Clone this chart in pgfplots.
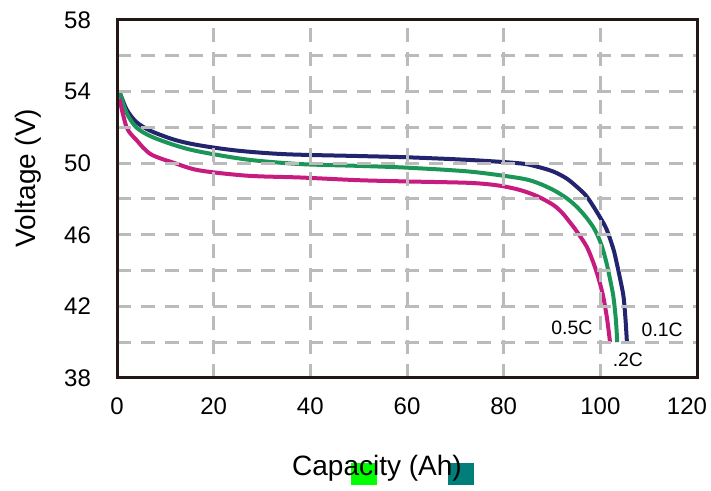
\documentclass[border=0pt]{standalone}
\usepackage{pgfplots}
\pgfplotsset{compat=1.18}
\usepackage{fontspec}
\setmainfont{Liberation Sans}

\definecolor{navyc}{RGB}{35,36,110}
\definecolor{greenc}{RGB}{27,150,88}
\definecolor{magc}{RGB}{200,27,127}
\definecolor{gridc}{RGB}{187,187,187}
\definecolor{boxc}{RGB}{35,24,21}
\definecolor{mkgreen}{RGB}{0,255,0}
\definecolor{mkteal}{RGB}{0,126,122}

\begin{document}
\begin{tikzpicture}[x=0.5pt,y=0.5pt]
\useasboundingbox (0,0) rectangle (711,491);

% marker blocks behind the x label
\fill[mkgreen] (351,6) rectangle (377,28);
\fill[mkteal] (448,6) rectangle (474,28);

\begin{axis}[
    at={(58.5pt,56.5pt)},
    anchor=south west,
    scale only axis,
    width=290pt,
    height=179pt,
    xmin=0, xmax=120,
    ymin=38, ymax=58,
    xtick={0,20,...,120},
    xticklabels={0,20,40,60,80,100,{\hspace*{-10pt}120}},
    ytick={38,40,...,58},
    yticklabels={38,,42,,46,,50,,54,,58},
    major tick length=0pt,
    grid=major,
    major grid style={gridc, line width=1.5pt, dash pattern=on 7pt off 5pt},
    axis line style={boxc, line width=1.5pt},
    axis on top,
    /pgf/number format/assume math mode=true,
    ticklabel style={font=\fontsize{12}{14}\selectfont},
    xticklabel style={yshift=-6.5pt},
    yticklabel style={xshift=-9.5pt},
    clip=false
]

% 0.1C
\addplot[navyc, line width=2pt, smooth] coordinates {
    (0.5,54.0) (2,53.0) (4,52.3) (7,51.8) (12,51.3) (17,51.0) (25,50.7)
    (35,50.5) (50,50.4) (60,50.33) (73,50.18) (83.4,49.99) (87,49.8)
    (90.3,49.53) (93,49.15) (95.1,48.69) (97,48.2) (98.6,47.57) (100,46.95)
    (101.3,46.3) (102.7,45.2) (103.4,44.41) (104.2,43.4) (104.8,42.54)
    (105.2,41.3) (105.5,40.0)
};

% 0.2C
\addplot[greenc, line width=2pt, smooth] coordinates {
    (0.5,54.0) (2,52.8) (4,52.0) (7,51.5) (12,51.0) (17,50.65) (27,50.2)
    (38,49.95) (50,49.85) (60,49.75) (73,49.53) (83.4,49.16) (87,48.9)
    (90.3,48.5) (93,48.05) (95.1,47.57) (97,47.0) (98.6,46.4) (99.7,45.8)
    (100.5,45.2) (101.3,44.41) (102.1,43.4) (102.7,42.54) (103.2,41.3)
    (103.5,40.0)
};

% 0.5C
\addplot[magc, line width=2pt, smooth] coordinates {
    (0.5,53.6) (2,52.0) (4,51.3) (7,50.5) (12,50.0) (17,49.6) (27,49.3)
    (38,49.2) (50,49.05) (60,48.98) (73,48.9) (79,48.75) (83.4,48.5)
    (87,48.15) (90.3,47.66) (92.2,47.2) (93.7,46.7) (95.1,46.2) (97.2,45.33)
    (98.6,44.41) (99.7,43.5) (100.6,42.54) (101.4,41.3) (102.0,40.0)
};

\node[font=\fontsize{9.7}{11}\selectfont] at (axis cs:94.1,40.8) {0.5C};
\node[font=\fontsize{9.7}{11}\selectfont] at (axis cs:112.8,40.7) {0.1C};
\node[font=\fontsize{9.7}{11}\selectfont] at (axis cs:105.7,39.0) {.2C};

\end{axis}

\node[font=\fontsize{14}{16}\selectfont] at (377,23) {Capacity (Ah)};
\node[font=\fontsize{14}{16}\selectfont, rotate=90] at (28,313) {Voltage (V)};

\end{tikzpicture}
\end{document}
